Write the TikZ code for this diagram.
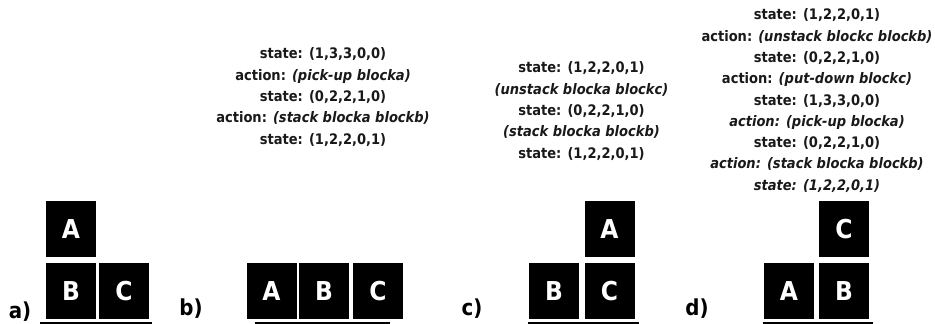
\documentclass[tikz,border=0pt]{standalone}
\usepackage{fontspec}
\setmainfont{DejaVu Sans Condensed}
\begin{document}
\begin{tikzpicture}[x=1pt,y=-1pt,
  blockbox/.style={fill=black, draw=none, minimum width=50pt, minimum height=56pt,
    inner sep=0pt, text=white, font=\fontsize{26}{26}\selectfont\bfseries},
  plan/.style={align=center, inner sep=0pt, text=black!90,
    font=\fontsize{14.5}{21.3}\selectfont\bfseries},
  tag/.style={inner sep=0pt, anchor=base, font=\fontsize{22}{22}\selectfont\bfseries},
  ground/.style={line width=2.6pt}]
\useasboundingbox (0,0) rectangle (935,324);

% a) initial configuration
\node[blockbox] (aA) at (71,229) {A};
\node[blockbox] (aB) at (71,291) {B};
\node[blockbox] (aC) at (124,291) {C};
\node[tag] (la) at (20,318) {a)};
\coordinate (ga1) at (40,323); \coordinate (ga2) at (152,323);
\draw[ground] (ga1) -- (ga2);

% b) all blocks on the table
\node[blockbox] (bA) at (271.5,291) {A};
\node[blockbox] (bB) at (324,291) {B};
\node[blockbox] (bC) at (378,291) {C};
\node[tag] (lb) at (191,315) {b)};
\coordinate (gb1) at (255,323); \coordinate (gb2) at (390,323);
\draw[ground] (gb1) -- (gb2);
\node[plan] (pb) at (323,97) {state: (1,3,3,0,0)\\
  action: \textit{(pick-up blocka)}\\
  state: (0,2,2,1,0)\\
  action: \textit{(stack blocka blockb)}\\
  state: (1,2,2,0,1)};

% c) A on top of C
\node[blockbox] (cB) at (554,291) {B};
\node[blockbox] (cC) at (609.5,291) {C};
\node[blockbox] (cA) at (609.5,229) {A};
\node[tag] (lc) at (472,315) {c)};
\coordinate (gc1) at (528,323); \coordinate (gc2) at (639,323);
\draw[ground] (gc1) -- (gc2);
\node[plan] (pc) at (581.5,111) {state: (1,2,2,0,1)\\
  \textit{(unstack blocka blockc)}\\
  state: (0,2,2,1,0)\\
  \textit{(stack blocka blockb)}\\
  state: (1,2,2,0,1)};

% d) C on top of B
\node[blockbox] (dA) at (789,291) {A};
\node[blockbox] (dB) at (844,291) {B};
\node[blockbox] (dC) at (844,229) {C};
\node[tag] (ld) at (697,315) {d)};
\coordinate (gd1) at (763,323); \coordinate (gd2) at (873,323);
\draw[ground] (gd1) -- (gd2);
\node[plan] (pd) at (817,100.6) {state: (1,2,2,0,1)\\
  action: \textit{(unstack blockc blockb)}\\
  state: (0,2,2,1,0)\\
  action: \textit{(put-down blockc)}\\
  state: (1,3,3,0,0)\\
  \textit{action: (pick-up blocka)}\\
  state: (0,2,2,1,0)\\
  \textit{action: (stack blocka blockb)}\\
  \textit{state: (1,2,2,0,1)}};
\end{tikzpicture}
\end{document}
